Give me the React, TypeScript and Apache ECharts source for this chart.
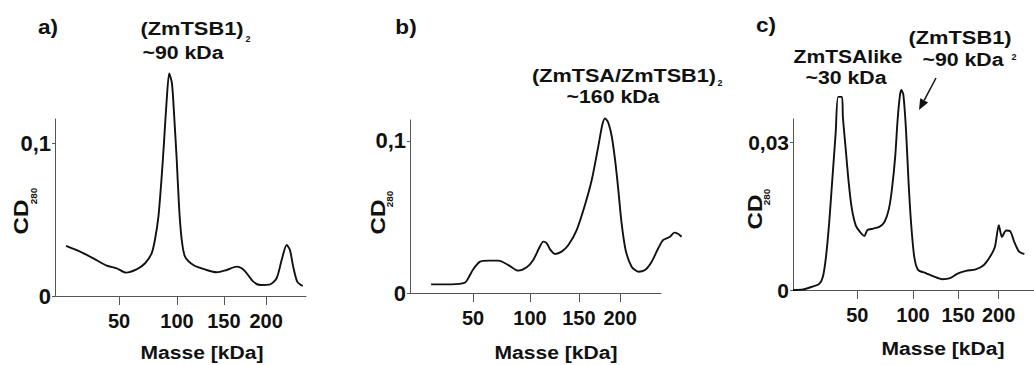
import React, { useEffect, useRef } from "react";
import * as echarts from "echarts";

// Tick labels (mass calibration) and their positions along each elution axis (0-100 % of axis length)
const massLabels = ["50", "100", "150", "200"];
const tickPosA = [25.5, 48.6, 67.3, 84.1];
const tickPosB = [25.1, 47.8, 67.3, 83.7];
const tickPosC = [26.7, 49.8, 68.5, 85.3];

// Panel a: (ZmTSB1)2
const posA = [4.4, 10.0, 15.3, 20.6, 24.6, 28.3, 32.5, 35.9, 38.5, 39.8, 41.2, 42.5, 43.4, 44.5, 45.5, 46.6, 47.5, 48.5, 49.5, 50.5, 51.8, 55.1, 60.4, 64.4, 68.4, 72.4, 74.4, 76.4, 79.0, 81.7, 85.7, 88.3, 90.3, 92.3, 93.6, 94.9, 96.5, 98.7];
const valA = [0.0327, 0.029, 0.0246, 0.0198, 0.0181, 0.0153, 0.0174, 0.0214, 0.0279, 0.0366, 0.0519, 0.078, 0.0998, 0.1281, 0.1455, 0.139, 0.1172, 0.0889, 0.0562, 0.0366, 0.0257, 0.0203, 0.017, 0.0155, 0.017, 0.0192, 0.0181, 0.0148, 0.0094, 0.0072, 0.0076, 0.0116, 0.0235, 0.0333, 0.0301, 0.0192, 0.0094, 0.0065];

// Panel b: (ZmTSA/ZmTSB1)2  (trace runs past the drawn end of the axis)
const posB = [8.4, 16.6, 21.9, 23.2, 25.2, 27.9, 31.2, 35.2, 39.2, 43.1, 46.5, 49.1, 51.4, 53.1, 54.5, 55.8, 57.8, 60.4, 63.1, 66.4, 69.7, 72.4, 75.0, 76.6, 77.7, 79.0, 80.4, 81.7, 83.0, 84.3, 85.9, 88.3, 91.0, 93.6, 96.3, 98.9, 100.9, 103.6, 105.3, 106.9, 108.2];
const valB = [0.0057, 0.0057, 0.0068, 0.0097, 0.0156, 0.0206, 0.0213, 0.0213, 0.0184, 0.0147, 0.0169, 0.0217, 0.0294, 0.0338, 0.0327, 0.0287, 0.0257, 0.0272, 0.0316, 0.0414, 0.0579, 0.0743, 0.0963, 0.1105, 0.1149, 0.112, 0.1028, 0.0875, 0.0678, 0.0459, 0.0283, 0.0173, 0.014, 0.0151, 0.0206, 0.0294, 0.0349, 0.037, 0.0397, 0.0388, 0.037];

// Panel c: ZmTSAlike + (ZmTSB1)2
const posC = [0.0, 4.1, 8.1, 10.8, 12.4, 13.7, 15.0, 16.3, 17.7, 18.7, 20.3, 20.7, 21.8, 23.0, 24.3, 26.0, 28.0, 29.6, 30.9, 33.3, 36.0, 38.0, 39.7, 41.0, 42.4, 43.4, 44.4, 45.0, 45.8, 46.9, 47.9, 49.0, 50.3, 51.9, 55.3, 58.6, 61.9, 65.2, 68.5, 71.8, 75.8, 79.2, 81.8, 83.8, 85.4, 86.7, 88.4, 90.2, 91.8, 93.8, 96.0];
const valC = [0.0, 0.0001, 0.0007, 0.0012, 0.0027, 0.0068, 0.0136, 0.0224, 0.0319, 0.0393, 0.0393, 0.0352, 0.0291, 0.0224, 0.0169, 0.0132, 0.0117, 0.011, 0.0122, 0.0125, 0.0129, 0.0139, 0.0163, 0.0203, 0.0271, 0.0346, 0.0397, 0.0407, 0.0397, 0.0325, 0.0224, 0.0136, 0.0068, 0.0041, 0.0034, 0.0027, 0.0022, 0.0024, 0.0034, 0.0039, 0.0042, 0.0051, 0.0068, 0.0088, 0.0132, 0.0108, 0.0121, 0.0119, 0.0098, 0.0078, 0.0073];

const yTicksA = [0, 0.1];
const yTicksB = [0, 0.1];
const yTicksC = [0, 0.03];

const FONT = '"Liberation Sans", Arial, sans-serif';
const INK = "#111";
const AXIS = "#555";

function zip(xs: number[], ys: number[]) {
  return xs.map((x, i) => [x, ys[i]]);
}

function makeX(gridIndex: number, ticks: number[], max = 100, show = true) {
  return {
    type: "value",
    gridIndex,
    show,
    min: 0,
    max,
    axisLine: { show: true, onZero: false, lineStyle: { color: AXIS, width: 1 } },
    axisTick: { show: true, customValues: ticks, length: 9, lineStyle: { color: AXIS, width: 1 } },
    axisLabel: {
      customValues: ticks,
      formatter: (v: number) => {
        const i = ticks.findIndex((t) => Math.abs(t - v) < 1e-6);
        return i >= 0 ? massLabels[i] : "";
      },
      margin: 15,
      fontFamily: FONT,
      fontWeight: "bold",
      fontSize: 20,
      color: INK,
    },
    splitLine: { show: false },
  };
}

function makeY(gridIndex: number, max: number, ticks: number[], size: number, show = true) {
  return {
    type: "value",
    gridIndex,
    show,
    min: 0,
    max,
    axisLine: { show: true, onZero: false, lineStyle: { color: AXIS, width: 1 } },
    axisTick: { show: true, customValues: ticks, length: 3, lineStyle: { color: AXIS, width: 1 } },
    axisLabel: {
      customValues: ticks,
      formatter: (v: number) => (v === 0 ? "0" : String(v).replace(".", ",")),
      margin: 4,
      fontFamily: FONT,
      fontWeight: "bold",
      fontSize: size,
      color: INK,
    },
    splitLine: { show: false },
  };
}

function makeSeries(idx: number, data: number[][]) {
  return {
    type: "line",
    xAxisIndex: idx,
    yAxisIndex: idx,
    data,
    showSymbol: false,
    smooth: 0.25,
    clip: false,
    lineStyle: { color: INK, width: 1.9 },
  };
}

function txt(text: string, x: number, y: number, size: number, sx = 1.13, rotation = 0) {
  return {
    type: "text",
    x,
    y,
    rotation,
    scaleX: sx,
    silent: true,
    style: {
      text,
      fill: INK,
      font: `bold ${size}px ${FONT}`,
      align: "center",
      verticalAlign: "middle",
    },
  };
}

export default function App() {
  const ref = useRef<HTMLDivElement>(null);
  useEffect(() => {
    document.body.style.margin = "0";
    const chart = echarts.init(ref.current!, null, { renderer: "svg" });
    const rot = Math.PI / 2;
    const arrowTip = [919, 110];
    const arrowTail = [936, 78];
    const dx = arrowTip[0] - arrowTail[0];
    const dy = arrowTip[1] - arrowTail[1];
    const L = Math.hypot(dx, dy);
    const ux = dx / L, uy = dy / L;
    const bx = arrowTip[0] - ux * 11, by = arrowTip[1] - uy * 11;
    const px = -uy, py = ux;
    const bMax = 110;
    chart.setOption({
      animation: false,
      backgroundColor: "#fff",
      grid: [
        { left: 55, top: 119, width: 251, height: 177 },
        { left: 410, top: 120, width: 251 * (bMax / 100), height: 173 },
        { left: 793, top: 119, width: 251, height: 171 },
        { left: 410, top: 120, width: 251, height: 173 },
      ],
      xAxis: [
        makeX(0, tickPosA),
        makeX(1, tickPosB, bMax, false),
        makeX(2, tickPosC),
        makeX(3, tickPosB),
      ],
      yAxis: [
        makeY(0, 0.1157, yTicksA, 22),
        makeY(1, 0.1138, yTicksB, 22),
        makeY(2, 0.0348, yTicksC, 21),
        makeY(3, 0.1138, yTicksB, 22, false),
      ],
      series: [
        makeSeries(0, zip(posA, valA)),
        makeSeries(1, zip(posB, valB)),
        makeSeries(2, zip(posC, valC)),
      ],
      graphic: [
        // panel a
        txt("a)", 48, 27, 20),
        txt("(ZmTSB1)", 192, 28, 19, 1.15),
        txt("2", 248, 39, 9, 1),
        txt("~90 kDa", 183, 52, 19, 1.12),
        txt("Masse [kDa]", 202, 352, 19, 1.11),
        txt("CD", 21, 217, 21, 1.15, rot),
        txt("280", 34, 196, 9, 1.1, rot),
        // panel b
        txt("b)", 406, 27, 20),
        txt("(ZmTSA/ZmTSB1)", 624, 75, 19, 1.14),
        txt("2", 720, 83, 9, 1),
        txt("~160 kDa", 613, 96, 19, 1.12),
        txt("Masse [kDa]", 556, 352, 19, 1.11),
        txt("CD", 378, 217, 21, 1.15, rot),
        txt("280", 390, 199, 9, 1.1, rot),
        // panel c
        txt("c)", 766, 25, 20),
        txt("ZmTSAlike", 848, 56, 19, 1.11),
        txt("~30 kDa", 846, 77, 19, 1.12),
        txt("(ZmTSB1)", 960, 37, 19, 1.15),
        txt("2", 1014, 57, 9, 1),
        txt("~90 kDa", 963, 59, 19, 1.12),
        txt("Masse [kDa]", 943, 348, 19, 1.11),
        txt("CD", 755, 212, 21, 1.15, rot),
        txt("280", 767, 197, 9, 1.1, rot),
        {
          type: "line",
          silent: true,
          shape: { x1: arrowTail[0], y1: arrowTail[1], x2: bx, y2: by },
          style: { stroke: INK, lineWidth: 1.5 },
        },
        {
          type: "polygon",
          silent: true,
          shape: {
            points: [
              [arrowTip[0], arrowTip[1]],
              [bx + px * 4.5, by + py * 4.5],
              [bx - px * 4.5, by - py * 4.5],
            ],
          },
          style: { fill: INK },
        },
      ],
    });
    return () => chart.dispose();
  }, []);
  return <div ref={ref} style={{ width: 1034, height: 365 }} />;
}
